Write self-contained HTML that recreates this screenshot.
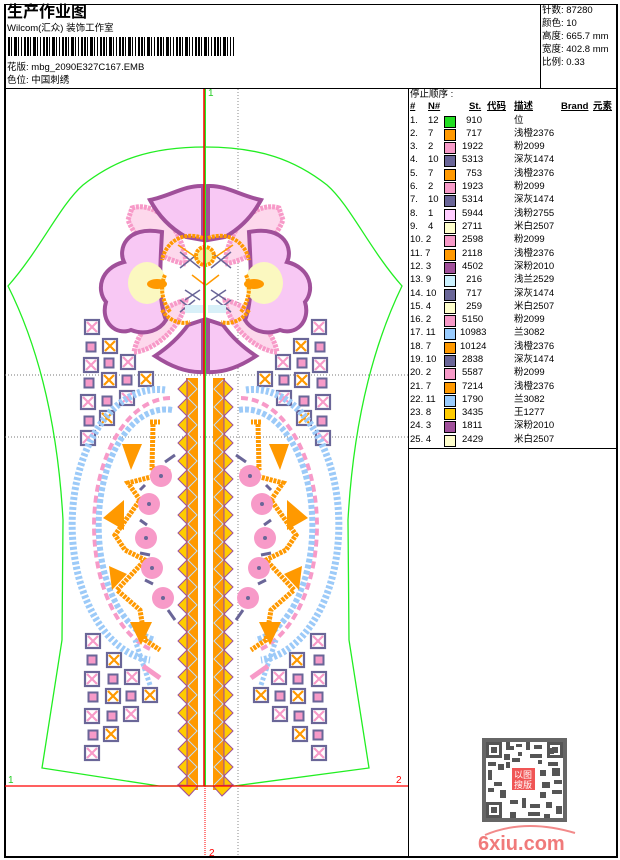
<!DOCTYPE html>
<html><head><meta charset="utf-8"><style>
*{margin:0;padding:0}
body{width:620px;height:860px;background:#fff;position:relative;overflow:hidden;font-family:"Liberation Sans","Noto Sans CJK SC",sans-serif;font-size:9.5px;color:#000}
.a{position:absolute;white-space:nowrap;line-height:12px}
.bc{position:absolute;left:8px;top:37px;width:226px;height:19px;background:repeating-linear-gradient(90deg,#000 0 2px,#fff 2px 3px,#000 3px 4px,#fff 4px 6px,#000 6px 9px,#fff 9px 10px,#000 10px 11px,#fff 11px 13px,#000 13px 14px,#fff 14px 16px,#000 16px 18px,#fff 18px 19px)}
.sw{position:absolute;width:10px;height:10px;border:1px solid #000}
.h{font-weight:bold;text-decoration:underline}
</style></head><body>
<div style="position:absolute;left:4px;top:4px;width:610px;height:851px;border:1px solid #000;border-width:1px 2px 2px 2px"></div>
<div style="position:absolute;left:4px;top:88px;width:612px;height:1px;background:#000"></div>
<div style="position:absolute;left:540px;top:4px;width:1px;height:84px;background:#000"></div>
<div style="position:absolute;left:408px;top:88px;width:1px;height:768px;background:#000"></div>
<div style="position:absolute;left:408px;top:448px;width:208px;height:1px;background:#000"></div>

<div class="a" style="left:7px;top:3px;font-size:16px;font-weight:bold;line-height:20px">生产作业图</div>
<div class="a" style="left:7px;top:23px">Wilcom(汇众) 装饰工作室</div>
<div class="bc"></div>
<div class="a" style="left:7px;top:62px">花版: mbg_2090E327C167.EMB</div>
<div class="a" style="left:7px;top:75px">色位: 中国刺绣</div>

<div class="a" style="left:542px;top:5px">针数: 87280</div>
<div class="a" style="left:542px;top:18px">颜色: 10</div>
<div class="a" style="left:542px;top:31px">高度: 665.7 mm</div>
<div class="a" style="left:542px;top:44px">宽度: 402.8 mm</div>
<div class="a" style="left:542px;top:57px">比例: 0.33</div>

<div class="a" style="left:410px;top:89px">停止顺序 :</div>
<div class="a h" style="left:410px;top:101px">#</div>
<div class="a h" style="left:428px;top:101px">N#</div>
<div class="a h" style="left:469px;top:101px">St.</div>
<div class="a h" style="left:487px;top:101px">代码</div>
<div class="a h" style="left:514px;top:101px">描述</div>
<div class="a h" style="left:561px;top:101px">Brand</div>
<div class="a h" style="left:593px;top:101px">元素</div>

<svg width="620" height="860" style="position:absolute;left:0;top:0" xmlns="http://www.w3.org/2000/svg">
<defs>
<g id="pk"><rect x="-7" y="-7" width="14" height="14" fill="#fff" stroke="#6a6698" stroke-width="2.2"/><path d="M-5,-5L5,5M5,-5L-5,5" stroke="#f79ac8" stroke-width="2.2"/></g>
<g id="or"><rect x="-7" y="-7" width="14" height="14" fill="#fff" stroke="#6a6698" stroke-width="2.2"/><path d="M-5,-5L5,5M5,-5L-5,5" stroke="#f90" stroke-width="2.2"/></g>
<g id="sm"><rect x="-4.5" y="-4.5" width="9" height="9" fill="#f79ac8" stroke="#6a6698" stroke-width="2"/></g>
<g id="tl"><path d="M0,0 l-9,9 l9,9z" fill="#ffcc00" stroke="#a0509a" stroke-width="1"/></g>
<g id="half">
 <use href="#pk" x="92" y="327"/><use href="#pk" x="91" y="365"/><use href="#pk" x="128" y="362"/><use href="#pk" x="88" y="402"/><use href="#pk" x="127" y="398"/><use href="#pk" x="88" y="438"/>
 <use href="#or" x="110" y="346"/><use href="#or" x="109" y="380"/><use href="#or" x="146" y="379"/><use href="#or" x="107" y="418"/>
 <use href="#sm" x="91" y="347"/><use href="#sm" x="109" y="363"/><use href="#sm" x="89" y="383"/><use href="#sm" x="127" y="380"/><use href="#sm" x="107" y="401"/><use href="#sm" x="89" y="421"/>
 <use href="#pk" x="93" y="641"/><use href="#pk" x="92" y="679"/><use href="#pk" x="132" y="677"/><use href="#pk" x="92" y="716"/><use href="#pk" x="131" y="714"/><use href="#pk" x="92" y="753"/>
 <use href="#or" x="114" y="660"/><use href="#or" x="113" y="696"/><use href="#or" x="150" y="695"/><use href="#or" x="111" y="734"/>
 <use href="#sm" x="92" y="660"/><use href="#sm" x="113" y="679"/><use href="#sm" x="93" y="697"/><use href="#sm" x="131" y="696"/><use href="#sm" x="112" y="716"/><use href="#sm" x="93" y="735"/>
 <path d="M165,390 A85,135 0 0 0 150,660" fill="none" stroke="#9ccaf8" stroke-width="7" stroke-dasharray="3 2"/>
 <path d="M170,398 A77,128 0 0 0 152,650" fill="none" stroke="#f79ac8" stroke-width="4" stroke-dasharray="7 4"/>
 <path d="M172,410 A67,116 0 0 0 155,640" fill="none" stroke="#9ccaf8" stroke-width="6" stroke-dasharray="4 2"/>
 <path d="M150,685 L135,640" stroke="#9ccaf8" stroke-width="5" stroke-dasharray="3 2"/>
 <path d="M143,666 L160,678" stroke="#f79ac8" stroke-width="5"/>
 <path d="M150,422 L160,422 M153,424 L152,468 L170,472 L128,483 L140,500 L115,535 L125,550 L145,560 L117,590 L140,610 L145,640 L160,650" fill="none" stroke="#f90" stroke-width="5" stroke-dasharray="3 1"/>
 <path d="M122,444 L142,444 L131,470Z M124,500 L124,530 L103,518Z M109,566 L127,574 L112,590Z M130,622 L152,622 L141,645Z" fill="#f90"/>
 <g fill="#f79ac8"><circle cx="161" cy="476" r="11"/><circle cx="149" cy="504" r="11"/><circle cx="146" cy="538" r="11"/><circle cx="152" cy="568" r="11"/><circle cx="163" cy="598" r="11"/></g>
 <g fill="#6a6698"><circle cx="161" cy="476" r="2"/><circle cx="149" cy="504" r="2"/><circle cx="146" cy="538" r="2"/><circle cx="152" cy="568" r="2"/><circle cx="163" cy="598" r="2"/></g>
 <path d="M165,462 L175,455 M140,490 L145,485 M140,520 L147,525 M140,553 L150,555 M145,580 L153,584 M168,610 L175,620" stroke="#6a6698" stroke-width="3"/>
 <rect x="186" y="378" width="12" height="412" fill="#f90"/>
 <path d="M187,378 V790" stroke="#a0509a" stroke-width="1.2"/>
 <path d="M188,380 l9,9 l-9,9 l9,9 l-9,9 l9,9 l-9,9 l9,9 l-9,9 l9,9 l-9,9 l9,9 l-9,9 l9,9 l-9,9 l9,9 l-9,9 l9,9 l-9,9 l9,9 l-9,9 l9,9 l-9,9 l9,9 l-9,9 l9,9 l-9,9 l9,9 l-9,9 l9,9 l-9,9 l9,9 l-9,9 l9,9 l-9,9 l9,9 l-9,9 l9,9 l-9,9 l9,9 l-9,9 l9,9 l-9,9 l9,9 l-9,9 l9,9" fill="none" stroke="#bfe0ff" stroke-width="1"/>
 <use href="#tl" x="187" y="380"/><use href="#tl" x="187" y="398"/><use href="#tl" x="187" y="416"/><use href="#tl" x="187" y="434"/><use href="#tl" x="187" y="452"/><use href="#tl" x="187" y="470"/><use href="#tl" x="187" y="488"/><use href="#tl" x="187" y="506"/><use href="#tl" x="187" y="524"/><use href="#tl" x="187" y="542"/><use href="#tl" x="187" y="560"/><use href="#tl" x="187" y="578"/><use href="#tl" x="187" y="596"/><use href="#tl" x="187" y="614"/><use href="#tl" x="187" y="632"/><use href="#tl" x="187" y="650"/><use href="#tl" x="187" y="668"/><use href="#tl" x="187" y="686"/><use href="#tl" x="187" y="704"/><use href="#tl" x="187" y="722"/><use href="#tl" x="187" y="740"/><use href="#tl" x="187" y="758"/><use href="#tl" x="187" y="776"/>
 <path d="M178,785 L189,796 L198,786Z" fill="#ffcc00" stroke="#a0509a" stroke-width="1"/>
 <path d="M132,208 C158,200 184,232 186,264 C165,260 138,246 128,220 Z" fill="#fdd8ec" stroke="#f79ac8" stroke-width="5" stroke-dasharray="3 1"/>
 <path d="M134,352 C150,352 182,330 186,300 C160,306 138,330 134,352 Z" fill="#fdd8ec" stroke="#f79ac8" stroke-width="5" stroke-dasharray="3 1"/>
 <path d="M162,232 C125,225 118,250 124,262 C100,268 96,290 106,302 C100,322 116,336 131,330 C146,336 160,330 166,320 C158,300 160,268 162,232 Z" fill="#f8c8f4" stroke="#a0509a" stroke-width="4"/>
 <ellipse cx="147" cy="283" rx="19" ry="21" fill="#fbf8c0"/>
 <ellipse cx="157" cy="284" rx="10" ry="5" fill="#f90"/>
 <path d="M203,186 C185,185 170,196 150,200 C158,215 170,228 186,237 L203,240 Z" fill="#f8c8f4" stroke="#a0509a" stroke-width="4"/>
 <path d="M203,372 C185,373 167,364 155,356 C170,346 180,336 188,325 L203,320 Z" fill="#f8c8f4" stroke="#a0509a" stroke-width="4"/>
 <path d="M203,238 C180,230 165,245 162,260 M165,275 C158,290 165,305 170,312 M162,310 C168,320 180,325 190,322" fill="none" stroke="#f90" stroke-width="4" stroke-dasharray="3 1"/>
 <path d="M180,252 L200,268 M200,252 L180,268 M185,290 L200,300 M200,290 L185,300 M180,300 L195,312 M195,300 L180,312" stroke="#6a6698" stroke-width="1.5"/>
 <path d="M178,245 L200,260 M192,275 L205,285" stroke="#f90" stroke-width="1.5"/>
 <rect x="185" y="305" width="18" height="8" fill="#d8f0f8"/>
</g>
</defs>
<path d="M238,89 V856" stroke="#888" stroke-width="1" stroke-dasharray="1 2"/>
<path d="M5,375 H408 M5,437 H408" stroke="#777" stroke-width="1" stroke-dasharray="1 2"/>
<path d="M205,147 C150,147 115,160 83,185 C60,205 40,250 8,286 C40,350 58,430 63,520 L62,640 L42,768 L159,786 L234,786 L369,768 L349,640 L348,520 C353,430 371,350 402,286 C370,250 350,205 327,185 C295,160 260,147 205,147 Z" fill="none" stroke="#22ee22" stroke-width="1.3"/>
<use href="#half"/>
<use href="#half" transform="translate(411,0) scale(-1,1)"/>
<circle cx="205" cy="256" r="9" fill="#fbf0a0" stroke="#f90" stroke-width="4" stroke-dasharray="3 1"/>
<path d="M205,330 V380" stroke="#6a6698" stroke-width="2"/>
<path d="M205,89 V786" stroke="#22ee22" stroke-width="2"/>
<path d="M204,89 V786" stroke="#ff0000" stroke-width="1.5"/>
<path d="M205,786 V856" stroke="#ff0000" stroke-width="1" stroke-dasharray="1 1"/>
<path d="M5,786 H408" stroke="#ff0000" stroke-width="1.3"/>
<text x="208" y="96" font-size="10" fill="#22cc22" font-family="Liberation Sans">1</text>
<text x="8" y="783" font-size="10" fill="#22cc22" font-family="Liberation Sans">1</text>
<text x="396" y="783" font-size="10" fill="#ff0000" font-family="Liberation Sans">2</text>
<text x="209" y="856" font-size="10" fill="#ff0000" font-family="Liberation Sans">2</text>
<g fill="#555">
<rect x="482" y="738" width="85" height="84" fill="#666"/>
<rect x="486" y="742" width="77" height="76" fill="#fff"/>
<g id="qrp"><rect x="486" y="742" width="16" height="16"/><rect x="489" y="745" width="10" height="10" fill="#fff"/><rect x="491" y="747" width="6" height="6"/></g>
<use href="#qrp" x="61"/><use href="#qrp" y="60"/>
<path d="M506,742h4v4h4v4h-8zM516,744h6v3h-6zM526,742h4v8h-4zM534,745h8v4h-8zM504,754h6v6h-6zM518,752h4v4h-4zM530,754h12v4h-12zM488,762h8v4h-8zM498,764h6v6h-6zM548,762h10v4h-10zM552,768h8v8h-8zM488,770h4v10h-4zM540,770h6v6h-6zM494,782h8v4h-8zM542,782h8v6h-8zM554,780h8v4h-8zM488,788h6v4h-6zM500,790h6v8h-6zM540,792h6v6h-6zM552,790h10v4h-10zM510,800h8v4h-8zM522,798h4v10h-4zM530,804h10v4h-10zM546,802h6v6h-6zM556,806h6v8h-6zM510,812h6v6h-6zM528,812h12v4h-12zM544,814h6v4h-6zM506,762h4v6h-4zM512,758h8v4h-8zM548,748h6v6h-6zM538,760h4v4h-4z"/>
</g>
<rect x="512" y="768" width="23" height="22" fill="#f05555"/>
<text x="514" y="778" font-size="9" fill="#fff" font-family="Noto Sans CJK SC">以图</text>
<text x="514" y="788" font-size="9" fill="#fff" font-family="Noto Sans CJK SC">搜版</text>
<path d="M485,835 Q525,818 575,833" fill="none" stroke="#f28a8a" stroke-width="2"/>
<text x="478" y="850" font-size="20" font-weight="bold" fill="#f07a7a" font-family="Liberation Sans">6xiu.com</text>
</svg>

<div style="position:absolute;left:0;top:0">
<div class="a" style="left:410px;top:115px">1.</div><div class="a" style="left:428px;top:115px">12</div><div class="sw" style="left:444px;top:116px;background:#22dd22"></div><div class="a" style="left:462px;top:115px;width:20px;text-align:right">910</div><div class="a" style="left:514px;top:115px">位</div>
<div class="a" style="left:410px;top:128px">2.</div><div class="a" style="left:428px;top:128px">7</div><div class="sw" style="left:444px;top:129px;background:#ff9900"></div><div class="a" style="left:462px;top:128px;width:20px;text-align:right">717</div><div class="a" style="left:514px;top:128px">浅橙2376</div>
<div class="a" style="left:410px;top:141px">3.</div><div class="a" style="left:428px;top:141px">2</div><div class="sw" style="left:444px;top:142px;background:#f79ac8"></div><div class="a" style="left:462px;top:141px;width:20px;text-align:right">1922</div><div class="a" style="left:514px;top:141px">粉2099</div>
<div class="a" style="left:410px;top:154px">4.</div><div class="a" style="left:428px;top:154px">10</div><div class="sw" style="left:444px;top:155px;background:#6a6698"></div><div class="a" style="left:462px;top:154px;width:20px;text-align:right">5313</div><div class="a" style="left:514px;top:154px">深灰1474</div>
<div class="a" style="left:410px;top:168px">5.</div><div class="a" style="left:428px;top:168px">7</div><div class="sw" style="left:444px;top:169px;background:#ff9900"></div><div class="a" style="left:462px;top:168px;width:20px;text-align:right">753</div><div class="a" style="left:514px;top:168px">浅橙2376</div>
<div class="a" style="left:410px;top:181px">6.</div><div class="a" style="left:428px;top:181px">2</div><div class="sw" style="left:444px;top:182px;background:#f79ac8"></div><div class="a" style="left:462px;top:181px;width:20px;text-align:right">1923</div><div class="a" style="left:514px;top:181px">粉2099</div>
<div class="a" style="left:410px;top:194px">7.</div><div class="a" style="left:428px;top:194px">10</div><div class="sw" style="left:444px;top:195px;background:#6a6698"></div><div class="a" style="left:462px;top:194px;width:20px;text-align:right">5314</div><div class="a" style="left:514px;top:194px">深灰1474</div>
<div class="a" style="left:410px;top:208px">8.</div><div class="a" style="left:428px;top:208px">1</div><div class="sw" style="left:444px;top:209px;background:#ffccff"></div><div class="a" style="left:462px;top:208px;width:20px;text-align:right">5944</div><div class="a" style="left:514px;top:208px">浅粉2755</div>
<div class="a" style="left:410px;top:221px">9.</div><div class="a" style="left:428px;top:221px">4</div><div class="sw" style="left:444px;top:222px;background:#ffffcc"></div><div class="a" style="left:462px;top:221px;width:20px;text-align:right">2711</div><div class="a" style="left:514px;top:221px">米白2507</div>
<div class="a" style="left:410px;top:234px">10. 2</div><div class="sw" style="left:444px;top:235px;background:#f79ac8"></div><div class="a" style="left:462px;top:234px;width:20px;text-align:right">2598</div><div class="a" style="left:514px;top:234px">粉2099</div>
<div class="a" style="left:410px;top:248px">11. 7</div><div class="sw" style="left:444px;top:249px;background:#ff9900"></div><div class="a" style="left:462px;top:248px;width:20px;text-align:right">2118</div><div class="a" style="left:514px;top:248px">浅橙2376</div>
<div class="a" style="left:410px;top:261px">12. 3</div><div class="sw" style="left:444px;top:262px;background:#a0509a"></div><div class="a" style="left:462px;top:261px;width:20px;text-align:right">4502</div><div class="a" style="left:514px;top:261px">深粉2010</div>
<div class="a" style="left:410px;top:274px">13. 9</div><div class="sw" style="left:444px;top:275px;background:#ccf2ff"></div><div class="a" style="left:462px;top:274px;width:20px;text-align:right">216</div><div class="a" style="left:514px;top:274px">浅兰2529</div>
<div class="a" style="left:410px;top:288px">14. 10</div><div class="sw" style="left:444px;top:289px;background:#6a6698"></div><div class="a" style="left:462px;top:288px;width:20px;text-align:right">717</div><div class="a" style="left:514px;top:288px">深灰1474</div>
<div class="a" style="left:410px;top:301px">15. 4</div><div class="sw" style="left:444px;top:302px;background:#ffffcc"></div><div class="a" style="left:462px;top:301px;width:20px;text-align:right">259</div><div class="a" style="left:514px;top:301px">米白2507</div>
<div class="a" style="left:410px;top:314px">16. 2</div><div class="sw" style="left:444px;top:315px;background:#f79ac8"></div><div class="a" style="left:462px;top:314px;width:20px;text-align:right">5150</div><div class="a" style="left:514px;top:314px">粉2099</div>
<div class="a" style="left:410px;top:327px">17. 11</div><div class="sw" style="left:444px;top:328px;background:#99ccff"></div><div class="a" style="left:460px;top:327px;width:22px;text-align:right">10983</div><div class="a" style="left:514px;top:327px">兰3082</div>
<div class="a" style="left:410px;top:341px">18. 7</div><div class="sw" style="left:444px;top:342px;background:#ff9900"></div><div class="a" style="left:460px;top:341px;width:22px;text-align:right">10124</div><div class="a" style="left:514px;top:341px">浅橙2376</div>
<div class="a" style="left:410px;top:354px">19. 10</div><div class="sw" style="left:444px;top:355px;background:#6a6698"></div><div class="a" style="left:462px;top:354px;width:20px;text-align:right">2838</div><div class="a" style="left:514px;top:354px">深灰1474</div>
<div class="a" style="left:410px;top:367px">20. 2</div><div class="sw" style="left:444px;top:368px;background:#f79ac8"></div><div class="a" style="left:462px;top:367px;width:20px;text-align:right">5587</div><div class="a" style="left:514px;top:367px">粉2099</div>
<div class="a" style="left:410px;top:381px">21. 7</div><div class="sw" style="left:444px;top:382px;background:#ff9900"></div><div class="a" style="left:462px;top:381px;width:20px;text-align:right">7214</div><div class="a" style="left:514px;top:381px">浅橙2376</div>
<div class="a" style="left:410px;top:394px">22. 11</div><div class="sw" style="left:444px;top:395px;background:#99ccff"></div><div class="a" style="left:462px;top:394px;width:20px;text-align:right">1790</div><div class="a" style="left:514px;top:394px">兰3082</div>
<div class="a" style="left:410px;top:407px">23. 8</div><div class="sw" style="left:444px;top:408px;background:#ffcc00"></div><div class="a" style="left:462px;top:407px;width:20px;text-align:right">3435</div><div class="a" style="left:514px;top:407px">王1277</div>
<div class="a" style="left:410px;top:420px">24. 3</div><div class="sw" style="left:444px;top:421px;background:#a0509a"></div><div class="a" style="left:462px;top:420px;width:20px;text-align:right">1811</div><div class="a" style="left:514px;top:420px">深粉2010</div>
<div class="a" style="left:410px;top:434px">25. 4</div><div class="sw" style="left:444px;top:435px;background:#ffffcc"></div><div class="a" style="left:462px;top:434px;width:20px;text-align:right">2429</div><div class="a" style="left:514px;top:434px">米白2507</div>
</div>
</body></html>
